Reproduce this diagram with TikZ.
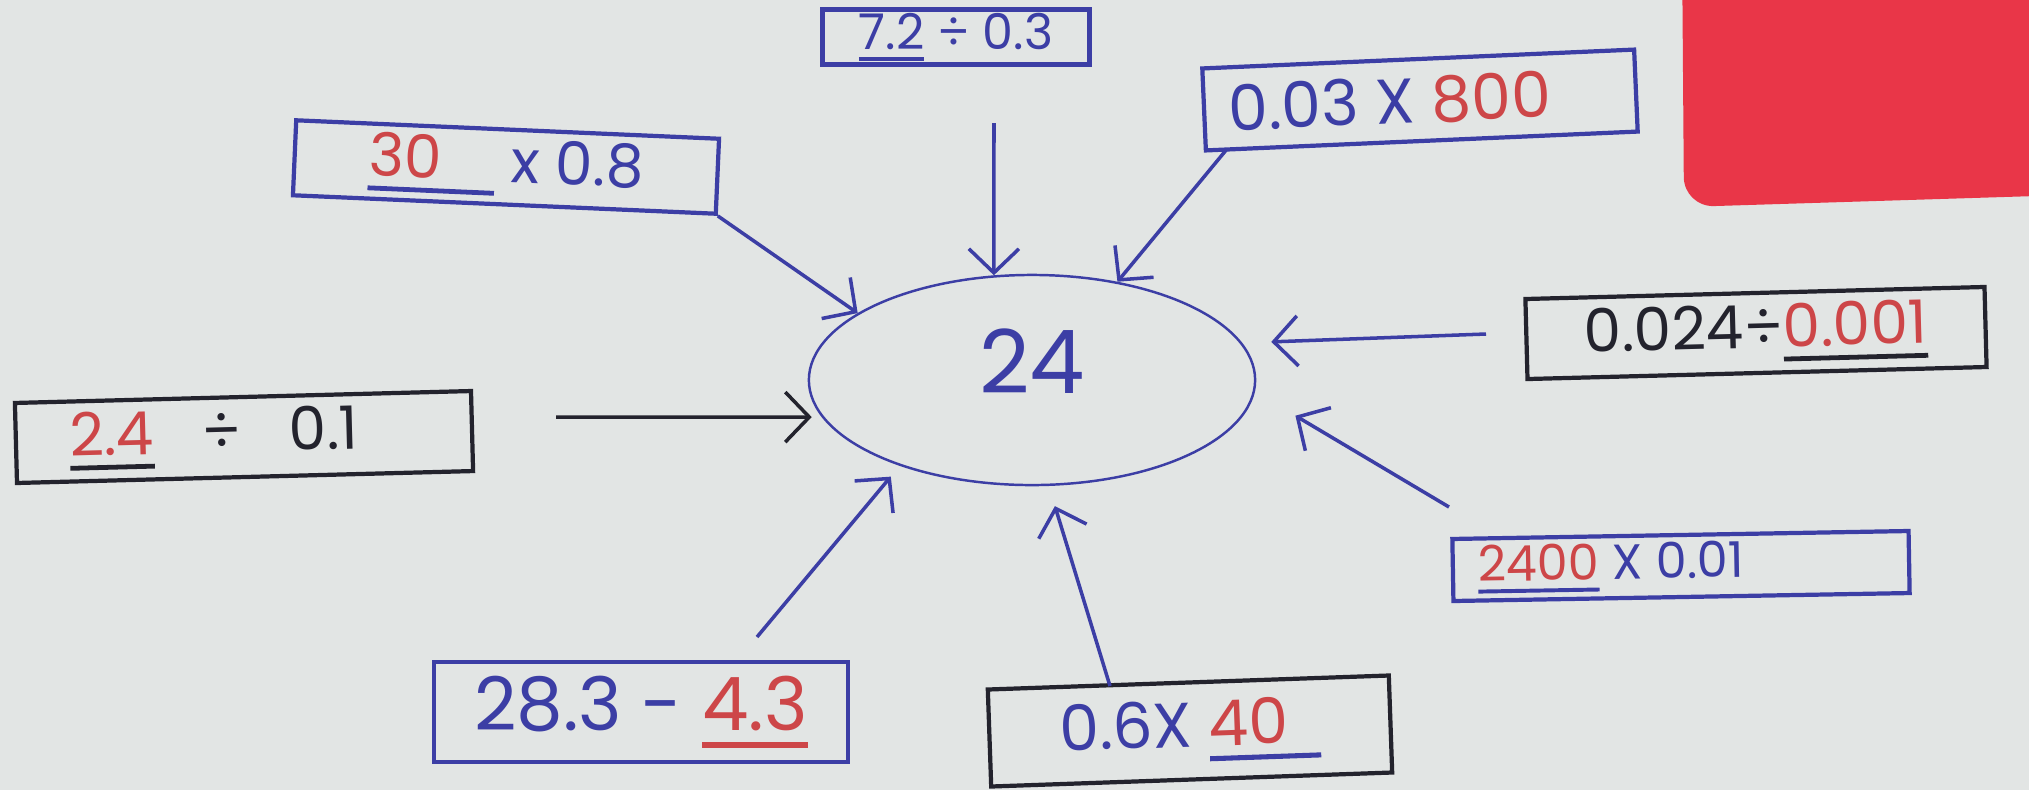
\documentclass[tikz,border=0pt]{standalone}
\usepackage{fontspec}
\setmainfont{Poppins}
\usetikzlibrary{arrows.meta,shapes.geometric}
\definecolor{paper}{RGB}{226,229,228}
\definecolor{bluepen}{RGB}{60,62,165}
\definecolor{blackpen}{RGB}{35,35,45}
\definecolor{redpen}{RGB}{205,70,72}
\definecolor{redblk}{RGB}{233,54,72}
\newcommand\ulc[2]{\leavevmode\setbox0=\hbox{#2}\rlap{\color{#1}\rule[-0.24em]{\wd0}{0.08em}}\box0\relax}
\tikzset{
  box/.style={draw=#1, line width=1.2pt, inner sep=0pt},
  arr/.style={draw=#1, line width=1pt, -{Straight Barb[length=2.4mm,width=5mm]}},
  fs/.style={font=\fontsize{#1}{#1}\selectfont}
}
\begin{document}
\begin{tikzpicture}[x=0.01cm,y=-0.01cm]
\useasboundingbox (0,0) rectangle (2029,790);
\fill[paper] (0,0) rectangle (2029,790);
\fill[redblk, rounded corners=0.3cm] (1682,-60) -- (1684,207) -- (2100,194) -- (2100,-60) -- cycle;

% hub
\node[draw=bluepen, ellipse, minimum width=4.46cm, minimum height=2.1cm, inner sep=0pt, line width=0.7pt, text=bluepen, fs=25] (hub) at (1032,380) {\raisebox{0.38cm}{24}};

% boxes
\node[box=bluepen, text=bluepen, minimum width=2.67cm, minimum height=0.55cm, fs=14] (b72) at (956,37) {\ulc{bluepen}{7.2} ÷ 0.3};
\node[box=bluepen, text=bluepen, minimum width=4.32cm, minimum height=0.82cm, fs=18, rotate=2.5] (b003) at (1420,100) {0.03 X \textcolor{redpen}{800}\kern0.6cm};
\node[box=bluepen, text=bluepen, minimum width=4.23cm, minimum height=0.75cm, fs=17, rotate=-2.5] (b30) at (506,167) {\ulc{bluepen}{\textcolor{redpen}{30}\hspace{0.9em}} x 0.8};
\node[box=blackpen, text=blackpen, minimum width=4.56cm, minimum height=0.8cm, fs=17, rotate=1.5] (b24) at (244,437) {\ulc{blackpen}{\textcolor{redpen}{2.4}}\ \ \ ÷\ \ \ 0.1\kern0.6cm};
\node[box=blackpen, text=blackpen, minimum width=4.59cm, minimum height=0.8cm, fs=17, rotate=1.5] (b0024) at (1756,333) {0.024÷\ulc{blackpen}{\textcolor{redpen}{0.001}}};
\node[box=bluepen, text=bluepen, minimum width=4.56cm, minimum height=0.62cm, fs=14, rotate=1] (b2400) at (1681,566) {\ulc{bluepen}{\textcolor{redpen}{2400}} X 0.01\kern1.4cm};
\node[box=bluepen, text=bluepen, minimum width=4.14cm, minimum height=1.0cm, fs=21] (b283) at (641,712) {28.3 - \ulc{redpen}{\textcolor{redpen}{4.3}}};
\node[box=blackpen, text=bluepen, minimum width=4.01cm, minimum height=0.97cm, fs=18, rotate=2] (b0640) at (1190,731) {0.6X \ulc{bluepen}{\textcolor{redpen}{40}\hspace{0.5em}}};

% free arrow starts
\coordinate (s1) at (994,123);
\coordinate (s2) at (1227,149);
\coordinate (s4) at (556,417);
\coordinate (s5) at (1486,334);
\coordinate (s6) at (1449,507);
\coordinate (s7) at (757,637);
\coordinate (s8) at (1110,686);

% connectors
\draw[arr=bluepen] (s1) -- (hub.110.2);
\draw[arr=bluepen] (s2) -- (hub.49.8);
\draw[arr=bluepen] (b30.south east) -- (hub.159.2);
\draw[arr=blackpen, shorten >=0.1cm] (s4) -- (hub.190);
\draw[arr=bluepen, shorten >=0.29cm] (s5) -- (hub.10.7);
\draw[arr=bluepen, shorten >=0.47cm] (s6) -- (hub.-3.5);
\draw[arr=bluepen, shorten >=0.14cm] (s7) -- (hub.213.3);
\draw[arr=bluepen, shorten >=0.21cm] (s8) -- (hub.279.2);
\end{tikzpicture}
\end{document}
